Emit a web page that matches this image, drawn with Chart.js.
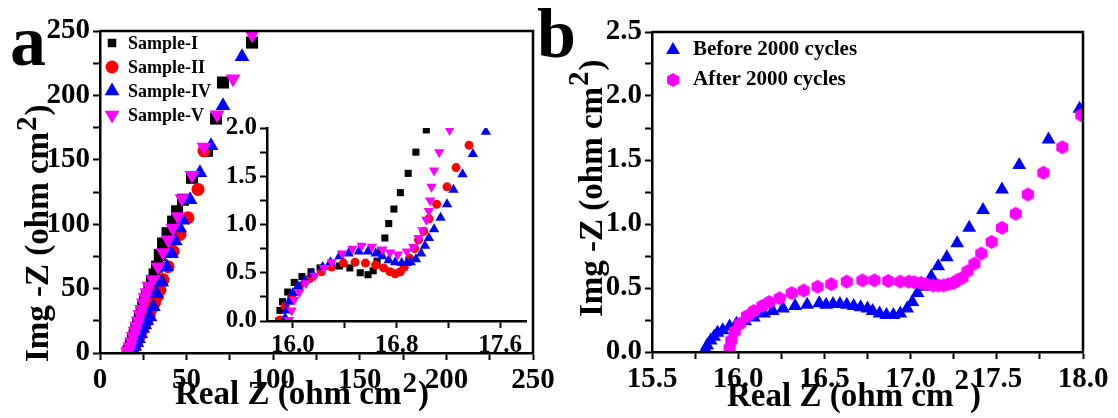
<!DOCTYPE html>
<html>
<head>
<meta charset="utf-8">
<script src="https://cdn.jsdelivr.net/npm/chart.js@4.4.0/dist/chart.umd.min.js"></script>
<style>
  body { margin: 0; background: #fff; }
  #wrap { position: relative; width: 1118px; height: 418px; overflow: hidden; }
  canvas { position: absolute; }
</style>
</head>
<body>
<div id="wrap">
  <canvas id="chartA" width="560" height="418" style="left:0;top:0"></canvas>
  <canvas id="chartInset" width="312" height="260" style="left:220px;top:100px"></canvas>
  <canvas id="chartB" width="583" height="418" style="left:535px;top:0"></canvas>
</div>
<script>
// ---- panel a, main plot: [Real Z, Img -Z] ----
const s1Main = [[16.0,0.5],[16.8,2],[17.8,6],[19.0,10],[20.0,14],[21.0,18],[22.0,22],[23.0,27],[24.0,31],[25.0,36],[26.0,40],[27.0,44],[28.5,50],[30.0,56],[31.5,61],[32.9,67],[34.5,76],[36.4,85],[39.0,93],[42.2,102],[44.5,110],[47.9,119],[53.1,136],[61.8,157],[67.0,182],[71.0,210],[87.8,241]]
const s2Main = [[16.5,0.5],[18.0,2],[20.0,5],[21.3,9],[22.7,13],[24.0,17],[25.5,21],[27.0,25],[28.5,30],[30.0,35],[31.5,39],[33.0,44],[34.6,49],[36.4,57],[39.3,67],[42.2,79],[46.2,92],[50.8,105],[56.6,127],[60.0,157]]
const s4Main = [[17.0,0.5],[18.5,2],[20.0,5],[21.2,8],[22.3,11],[23.5,15],[24.7,19],[25.8,22],[27.0,25],[28.9,28],[30.8,36],[32.7,46],[35.6,55],[38.5,67],[41.3,77],[43.5,87],[46.0,97],[47.7,103],[52.0,119],[57.7,140],[64.1,161],[71.0,192],[82.0,230]]
const s5Main = [[16.0,0.5],[16.5,2],[17.3,5],[18.2,9],[19.2,13],[20.2,17],[21.1,21],[22.0,25],[23.0,30],[24.0,34],[25.0,39],[26.0,43],[27.0,47],[28.2,52],[30.6,57],[33.5,67],[36.4,78],[39.3,88],[42.0,97],[45.0,106],[47.3,120],[53.1,138],[60.0,160],[67.6,185],[76.8,213],[87.8,247]]

// ---- panel a, inset ----
const s1Inset = [[15.89,0.0],[15.90,0.11],[15.92,0.20],[15.96,0.30],[16.01,0.40],[16.07,0.46],[16.14,0.51],[16.21,0.55],[16.29,0.57],[16.36,0.57],[16.44,0.55],[16.52,0.50],[16.58,0.48],[16.62,0.52],[16.65,0.62],[16.68,0.73],[16.71,0.86],[16.74,1.01],[16.78,1.16],[16.83,1.33],[16.89,1.53],[16.95,1.75],[17.03,1.98]]
const s2Inset = [[15.90,0.01],[15.94,0.15],[15.99,0.25],[16.05,0.36],[16.13,0.44],[16.22,0.51],[16.30,0.56],[16.39,0.60],[16.48,0.61],[16.56,0.60],[16.64,0.58],[16.70,0.55],[16.75,0.51],[16.79,0.49],[16.83,0.51],[16.86,0.56],[16.90,0.65],[16.94,0.75],[16.97,0.84],[17.01,0.93],[17.05,1.06],[17.11,1.21],[17.19,1.39],[17.26,1.59],[17.36,1.82]]
const s4Inset = [[15.94,0.03],[15.95,0.11],[15.97,0.20],[16.00,0.29],[16.04,0.36],[16.09,0.42],[16.15,0.49],[16.23,0.56],[16.29,0.61],[16.36,0.67],[16.43,0.70],[16.51,0.72],[16.58,0.72],[16.64,0.70],[16.69,0.67],[16.74,0.63],[16.79,0.61],[16.84,0.60],[16.88,0.60],[16.91,0.61],[16.95,0.64],[16.99,0.70],[17.02,0.78],[17.05,0.86],[17.09,0.95],[17.14,1.07],[17.19,1.21],[17.24,1.36],[17.31,1.52],[17.39,1.73],[17.49,1.96]]
const s5Inset = [[15.97,0.01],[15.99,0.11],[16.01,0.22],[16.05,0.30],[16.10,0.39],[16.17,0.47],[16.24,0.55],[16.30,0.61],[16.38,0.70],[16.46,0.75],[16.53,0.78],[16.61,0.77],[16.69,0.74],[16.75,0.71],[16.81,0.69],[16.88,0.72],[16.93,0.77],[16.97,0.86],[17.00,0.94],[17.03,1.05],[17.05,1.14],[17.06,1.25],[17.07,1.39],[17.09,1.56],[17.13,1.75],[17.21,1.98]]

// ---- panel b ----
const before2000 = [[15.81,0.02],[15.82,0.05],[15.84,0.09],[15.86,0.12],[15.88,0.15],[15.91,0.17],[15.95,0.20],[15.99,0.22],[16.04,0.24],[16.09,0.27],[16.15,0.30],[16.20,0.32],[16.26,0.34],[16.33,0.36],[16.40,0.37],[16.47,0.38],[16.51,0.37],[16.55,0.375],[16.59,0.375],[16.63,0.37],[16.67,0.36],[16.71,0.35],[16.75,0.34],[16.78,0.32],[16.82,0.30],[16.86,0.29],[16.90,0.29],[16.94,0.30],[16.98,0.34],[17.01,0.39],[17.04,0.46],[17.07,0.51],[17.12,0.59],[17.16,0.67],[17.21,0.74],[17.27,0.85],[17.34,0.97],[17.42,1.11],[17.53,1.27],[17.63,1.46],[17.80,1.66],[17.98,1.90]]
const after2000 = [[15.95,0.03],[15.96,0.09],[15.98,0.16],[16.01,0.22],[16.05,0.28],[16.09,0.32],[16.14,0.36],[16.18,0.39],[16.24,0.42],[16.31,0.46],[16.38,0.48],[16.46,0.51],[16.54,0.53],[16.63,0.55],[16.72,0.56],[16.79,0.56],[16.87,0.555],[16.94,0.55],[16.99,0.55],[17.02,0.545],[17.06,0.54],[17.09,0.53],[17.13,0.52],[17.16,0.52],[17.19,0.52],[17.22,0.53],[17.25,0.54],[17.27,0.56],[17.30,0.58],[17.33,0.63],[17.37,0.69],[17.41,0.77],[17.47,0.86],[17.53,0.97],[17.61,1.08],[17.68,1.23],[17.77,1.40],[17.88,1.60],[17.99,1.85]]

// ---- ticks ----
const aTicks = [0, 25, 50, 75, 100, 125, 150, 175, 200, 225, 250]
const aLabels = [0, 50, 100, 150, 200, 250]
const insetXTicks = [16.0, 16.4, 16.8, 17.2, 17.6]
const insetXLabels = [16.0, 16.8, 17.6]
const insetYTicks = [0, 0.25, 0.5, 0.75, 1.0, 1.25, 1.5, 1.75, 2.0]
const insetYLabels = [0, 0.5, 1.0, 1.5, 2.0]
const bXTicks = [15.5, 15.75, 16.0, 16.25, 16.5, 16.75, 17.0, 17.25, 17.5, 17.75, 18.0]
const bXLabels = [15.5, 16.0, 16.5, 17.0, 17.5, 18.0]
const bYTicks = [0, 0.25, 0.5, 0.75, 1.0, 1.25, 1.5, 1.75, 2.0, 2.25, 2.5]
const bYLabels = [0, 0.5, 1.0, 1.5, 2.0, 2.5]

const seriesA = ['Sample-I', 'Sample-II', 'Sample-IV', 'Sample-V']
const seriesB = ['Before 2000 cycles', 'After 2000 cycles']

const serif = "'Liberation Serif', 'Times New Roman', serif"
Chart.defaults.font.family = serif
Chart.defaults.font.weight = 'bold'
Chart.defaults.color = '#000'

const BLACK = '#000000', RED = '#ff0000', BLUE = '#0000ff', MAGENTA = '#ff00ff'

function pts(arr) { return arr.map(p => ({ x: p[0], y: p[1] })) }

// hexagon marker (no built-in one in Chart.js)
function hexagon(r, color) {
  const c = document.createElement('canvas')
  c.width = c.height = 2 * r + 2
  const g = c.getContext('2d')
  g.fillStyle = color
  g.beginPath()
  for (let i = 0; i < 6; i++) {
    const a = Math.PI / 3 * i - Math.PI / 2
    g.lineTo(r + 1 + r * Math.cos(a), r + 1 + r * Math.sin(a))
  }
  g.closePath()
  g.fill()
  return c
}
const hexB = hexagon(7, MAGENTA)

function axis(pos, min, max, all, labels, fmt, size, box) {
  return {
    type: 'linear', position: pos, min: min, max: max,
    afterBuildTicks: s => { s.ticks = all.map(v => ({ value: v })) },
    afterFit: s => {
      if (pos === 'bottom') { s.height = box; s.paddingLeft = 0; s.paddingRight = 0 }
      else { s.width = box; s.paddingTop = 0; s.paddingBottom = 0 }
    },
    ticks: {
      autoSkip: false, maxRotation: 0, padding: 3, color: '#000',
      font: { size: size, weight: 'bold', family: serif },
      callback: v => labels.indexOf(v) >= 0 ? fmt(v) : ''
    },
    grid: { drawOnChartArea: false, drawTicks: true, tickLength: 7, tickWidth: 2, tickColor: '#000' },
    border: { display: true, width: 2.5, color: '#000', z: 1 }
  }
}

function marker(ctx, style, x, y, r, rot) {
  ctx.beginPath()
  if (style === 'rect') {
    const s = r * Math.SQRT1_2
    ctx.rect(x - s, y - s, 2 * s, 2 * s)
  } else if (style === 'circle') {
    ctx.arc(x, y, r, 0, Math.PI * 2)
  } else if (style === 'triangle') {
    let a = (rot || 0) * Math.PI / 180
    for (let i = 0; i < 3; i++) {
      ctx.lineTo(x + Math.sin(a) * r, y - Math.cos(a) * r)
      a += Math.PI * 2 / 3
    }
    ctx.closePath()
  }
  ctx.fill()
}

// "xxx (ohm cm" + raised 2 + ")"
function title(ctx, text, x, y, rot, raise) {
  ctx.save()
  ctx.translate(x, y)
  ctx.rotate(rot)
  ctx.fillStyle = '#000'
  ctx.textAlign = 'left'
  ctx.textBaseline = 'alphabetic'
  ctx.font = 'bold 33px ' + serif
  ctx.fillText(text, 0, 0)
  let w = ctx.measureText(text).width + 1
  ctx.font = 'bold 29px ' + serif
  ctx.fillText('2', w, -raise)
  w += ctx.measureText('2').width + 1
  ctx.font = 'bold 33px ' + serif
  ctx.fillText(')', w, 0)
  ctx.restore()
}

function frameTR(ctx, a) {
  ctx.save()
  ctx.strokeStyle = '#000'
  ctx.lineWidth = 2.5
  ctx.beginPath()
  ctx.moveTo(a.left, a.top)
  ctx.lineTo(a.right, a.top)
  ctx.lineTo(a.right, a.bottom)
  ctx.stroke()
  ctx.restore()
}

const common = {
  responsive: false, animation: false, events: [],
  plugins: { legend: { display: false }, tooltip: { enabled: false } }
}

// ---------- panel a ----------
new Chart('chartA', {
  type: 'scatter',
  data: {
    datasets: [
      { label: seriesA[0], data: pts(s1Main), pointStyle: 'rect', pointRadius: 8.5, backgroundColor: BLACK, borderWidth: 0, order: 4, clip: 0 },
      { label: seriesA[1], data: pts(s2Main), pointStyle: 'circle', pointRadius: 6.5, backgroundColor: RED, borderWidth: 0, order: 3, clip: 0 },
      { label: seriesA[2], data: pts(s4Main), pointStyle: 'triangle', pointRadius: 8.5, backgroundColor: BLUE, borderWidth: 0, order: 2, clip: 0 },
      { label: seriesA[3], data: pts(s5Main), pointStyle: 'triangle', rotation: 180, pointRadius: 8.5, backgroundColor: MAGENTA, borderWidth: 0, order: 1, clip: 0 }
    ]
  },
  options: Object.assign({}, common, {
    layout: { padding: { left: 0, right: 27, top: 31, bottom: 0 } },
    scales: {
      x: axis('bottom', 0, 250, aTicks, aLabels, v => v.toString(), 29, 65),
      y: axis('left', 0, 250, aTicks, aLabels, v => v.toString(), 29, 100)
    }
  }),
  plugins: [{
    id: 'extrasA',
    afterDraw(chart) {
      const ctx = chart.ctx
      frameTR(ctx, chart.chartArea)
      title(ctx, 'Real Z (ohm cm', 175, 404, 0, 12)
      title(ctx, 'Img -Z (ohm cm', 48, 362, -Math.PI / 2, 12)
      // legend
      const styles = [['rect', 6, 0, BLACK], ['circle', 6.5, 0, RED], ['triangle', 8.5, 0, BLUE], ['triangle', 8.5, 180, MAGENTA]]
      const rows = [43, 67, 91, 115]
      ctx.save()
      ctx.font = 'bold 18px ' + serif
      ctx.textBaseline = 'middle'
      seriesA.forEach((name, i) => {
        ctx.fillStyle = styles[i][3]
        marker(ctx, styles[i][0], 112, rows[i], styles[i][1], styles[i][2])
        ctx.fillStyle = '#000'
        ctx.fillText(name, 128, rows[i] + 1)
      })
      ctx.font = 'bold 72px ' + serif
      ctx.textBaseline = 'alphabetic'
      ctx.fillText('a', 10, 65)
      ctx.restore()
    }
  }]
})

// ---------- inset ----------
new Chart('chartInset', {
  type: 'scatter',
  data: {
    datasets: [
      { label: seriesA[0], data: pts(s1Inset), pointStyle: 'rect', pointRadius: 5, backgroundColor: BLACK, borderWidth: 0, order: 4, clip: 0 },
      { label: seriesA[1], data: pts(s2Inset), pointStyle: 'circle', pointRadius: 4.5, backgroundColor: RED, borderWidth: 0, order: 3, clip: 0 },
      { label: seriesA[2], data: pts(s4Inset), pointStyle: 'triangle', pointRadius: 6, backgroundColor: BLUE, borderWidth: 0, order: 2, clip: 0 },
      { label: seriesA[3], data: pts(s5Inset), pointStyle: 'triangle', rotation: 180, pointRadius: 6, backgroundColor: MAGENTA, borderWidth: 0, order: 1, clip: 0 }
    ]
  },
  options: Object.assign({}, common, {
    layout: { padding: { left: 0, right: 2, top: 28, bottom: 0 } },
    scales: {
      x: axis('bottom', 15.8, 17.8, insetXTicks, insetXLabels, v => v.toFixed(1), 25, 39),
      y: axis('left', 0, 2.0, insetYTicks, insetYLabels, v => v.toFixed(1), 25, 47)
    }
  })
})

// ---------- panel b ----------
new Chart('chartB', {
  type: 'scatter',
  data: {
    datasets: [
      { label: seriesB[0], data: pts(before2000), pointStyle: 'triangle', pointRadius: 8, backgroundColor: BLUE, borderWidth: 0, order: 2, clip: 0 },
      { label: seriesB[1], data: pts(after2000), pointStyle: hexB, backgroundColor: MAGENTA, borderWidth: 0, order: 1, clip: 0 }
    ]
  },
  options: Object.assign({}, common, {
    layout: { padding: { left: 0, right: 35, top: 32, bottom: 0 } },
    scales: {
      x: axis('bottom', 15.5, 18.0, bXTicks, bXLabels, v => v.toFixed(1), 29, 66),
      y: axis('left', 0, 2.5, bYTicks, bYLabels, v => v.toFixed(1), 29, 117)
    }
  }),
  plugins: [{
    id: 'extrasB',
    afterDraw(chart) {
      const ctx = chart.ctx
      frameTR(ctx, chart.chartArea)
      title(ctx, 'Real Z (ohm cm', 192, 406, 0, 17)
      title(ctx, 'Img -Z (ohm cm', 67, 317, -Math.PI / 2, 14)
      ctx.save()
      ctx.font = 'bold 21px ' + serif
      ctx.textBaseline = 'middle'
      ctx.fillStyle = BLUE
      marker(ctx, 'triangle', 138, 50, 8, 0)
      ctx.drawImage(hexB, 138 - hexB.width / 2, 80 - hexB.height / 2)
      ctx.fillStyle = '#000'
      ctx.fillText(seriesB[0], 158, 50)
      ctx.fillText(seriesB[1], 158, 80)
      ctx.font = 'bold 70px ' + serif
      ctx.textBaseline = 'alphabetic'
      ctx.fillText('b', 2, 57)
      ctx.restore()
    }
  }]
})
</script>
</body>
</html>
